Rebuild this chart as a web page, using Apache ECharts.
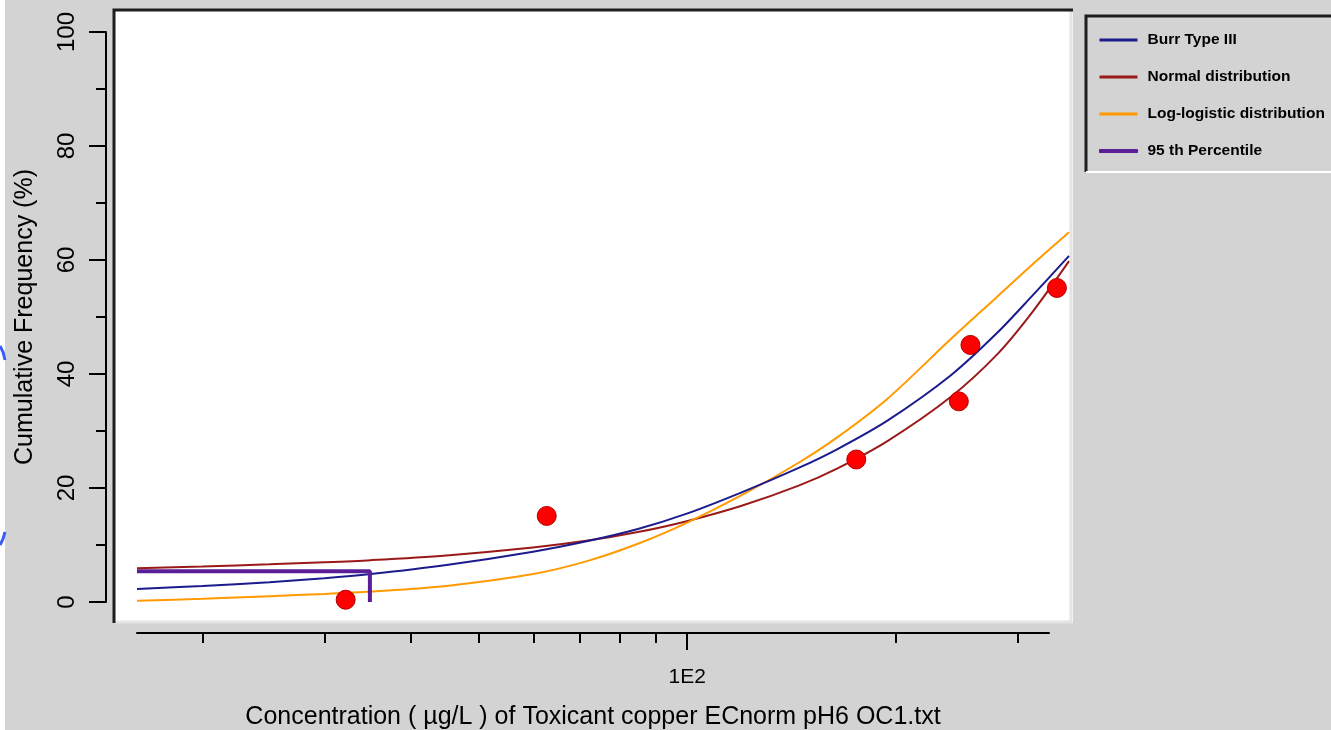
<!DOCTYPE html>
<html>
<head>
<meta charset="utf-8">
<script src="https://cdn.jsdelivr.net/npm/echarts@6/dist/echarts.min.js"></script>
<style>
html,body{margin:0;padding:0;background:#d3d3d3;}
#chart{width:1331px;height:730px;}
</style>
</head>
<body>
<div id="chart"></div>
<script>
// concentrations (µg/L) at which the fitted curves are sampled
const curveX = [16.1, 20, 25, 30, 35, 45, 60, 72, 85, 100, 120, 145, 165, 195, 240, 280, 315, 356];
// cumulative frequency (%) of each fitted distribution
const burrY   = [2.3, 2.80, 3.47, 4.16, 4.90, 6.49, 8.83, 10.70, 12.80, 15.5, 19.24, 23.52, 26.84, 31.87, 39.7, 47.14, 53.71, 60.73];
const normalY = [5.9, 6.24, 6.61, 6.97, 7.34, 8.17, 9.56, 10.77, 12.27, 14.18, 16.88, 20.41, 23.45, 28.28, 35.92, 43.36, 50.82, 59.8];
const loglogY = [0.2, 0.57, 1.01, 1.42, 1.84, 2.82, 4.90, 7.21, 10.21, 13.89, 18.73, 24.43, 28.92, 35.71, 46.04, 53.48, 59.16, 64.85];
// 95th percentile marker
const pctX = [16.1, 34.9, 34.9];
const pctY = [5.4, 5.4, 0];
// observed toxicity data
const obsX = [32.2, 62.8, 175.6, 246.9, 256.6, 342];
const obsY = [0.4, 15.1, 25.0, 35.2, 45.1, 55.1];
// axis ticks
const xMinorTicks = [20, 30, 40, 50, 60, 70, 80, 90, 200, 300];
const xMajorTicks = [100];
const xMajorLabels = {100: '1E2'};
const seriesNames = ['Burr Type III', 'Normal distribution', 'Log-logistic distribution', '95 th Percentile'];

const zip = (xs, ys) => xs.map((x, i) => [x, ys[i]]);
const FONT = "'Liberation Sans', Arial, sans-serif";
const C = {burr:'#1b1b8e', normal:'#9a1a1a', loglog:'#ff9a00', pct:'#5a1e96'};

const chart = echarts.init(document.getElementById('chart'), null, {renderer:'canvas'});
chart.setOption({
  backgroundColor: '#d3d3d3',
  animation: false,
  textStyle: {fontFamily: FONT},
  grid: [
    {left: 137, right: 262, top: 32, bottom: 128, containLabel:false, outerBoundsMode:'none'},
    {left: 137, right: 282, top: 32, bottom: 97, containLabel:false, outerBoundsMode:'none'}
  ],
  xAxis: [
    {type:'log', gridIndex:0, min:16.1, max:356, show:false},
    {type:'log', gridIndex:1, min:16.1, max:332.4, position:'bottom',
     axisLine:{show:true, lineStyle:{color:'#000', width:2}},
     axisTick:{show:true, customValues:xMinorTicks, length:10, lineStyle:{color:'#000', width:2}},
     axisLabel:{show:false}, splitLine:{show:false}, minorTick:{show:false},
     name:'Concentration ( µg/L ) of Toxicant copper ECnorm pH6 OC1.txt',
     nameLocation:'middle', nameGap:72,
     nameTextStyle:{fontSize:25, color:'#000', fontFamily:FONT}},
    {type:'log', gridIndex:1, min:16.1, max:332.4, position:'bottom',
     axisLine:{show:false},
     axisTick:{show:true, customValues:xMajorTicks, length:17, lineStyle:{color:'#000', width:2}},
     axisLabel:{show:true, customValues:xMajorTicks, margin:34, fontSize:21, color:'#000', fontFamily:FONT,
       formatter: v => xMajorLabels[Math.round(v)] || ''},
     splitLine:{show:false}}
  ],
  yAxis: [
    {type:'value', gridIndex:0, min:0, max:100, interval:20, offset:31,
     axisLine:{show:true, lineStyle:{color:'#000', width:2}},
     axisTick:{show:true, length:17, lineStyle:{color:'#000', width:2}},
     minorTick:{show:true, splitNumber:2, length:10, lineStyle:{color:'#000', width:2}},
     axisLabel:{rotate:90, margin:27, fontSize:24, color:'#000', fontFamily:FONT},
     splitLine:{show:false},
     name:'Cumulative Frequency (%)', nameLocation:'middle', nameGap:68,
     nameTextStyle:{fontSize:25, color:'#000', fontFamily:FONT}},
    {type:'value', gridIndex:1, show:false, min:0, max:100}
  ],
  legend: {
    orient:'vertical', left:1099, top:32, padding:0,
    itemWidth:38, itemHeight:3, itemGap:21, icon:'rect',
    textStyle:{fontSize:15.5, fontWeight:'bold', color:'#000', lineHeight:16, padding:[0,0,0,5], fontFamily:FONT},
    data:[
      {name:seriesNames[0]},
      {name:seriesNames[1]},
      {name:seriesNames[2]},
      {name:seriesNames[3], itemStyle:{borderColor:C.pct, borderWidth:1}}
    ]
  },
  graphic: [
    {type:'rect', z:-5, shape:{x:0, y:0, width:5, height:730}, style:{fill:'#ffffff'}},
    {type:'polyline', z:-5, shape:{points:[[0,346],[3,352],[5,360]]}, style:{stroke:'#3a5cff', lineWidth:3, fill:null}},
    {type:'polyline', z:-5, shape:{points:[[5,532],[3,539],[0,545]]}, style:{stroke:'#3a5cff', lineWidth:3, fill:null}},
    {type:'rect', z:-5, shape:{x:113, y:9, width:960, height:614}, style:{fill:'#ffffff'}},
    {type:'polyline', z:-4, shape:{points:[[1071,10],[1071,622],[114,622]]}, style:{stroke:'#e4e4e4', lineWidth:3, fill:null}},
    {type:'polyline', z:-4, shape:{points:[[114,623],[114,10],[1073,10]]}, style:{stroke:'#1e1e1e', lineWidth:3, fill:null}},
    {type:'polyline', z:-4, shape:{points:[[1086,172],[1086,16],[1331,16]]}, style:{stroke:'#1e1e1e', lineWidth:3, fill:null}},
    {type:'line', z:-4, shape:{x1:1086, y1:172, x2:1331, y2:172}, style:{stroke:'#ffffff', lineWidth:2}}
  ],
  series: [
    {name:seriesNames[1], type:'line', xAxisIndex:0, yAxisIndex:0, data:zip(curveX, normalY),
     showSymbol:false, smooth:0.3, color:C.normal, itemStyle:{color:C.normal}, lineStyle:{color:C.normal, width:2}, z:3},
    {name:seriesNames[0], type:'line', xAxisIndex:0, yAxisIndex:0, data:zip(curveX, burrY),
     showSymbol:false, smooth:0.3, color:C.burr, itemStyle:{color:C.burr}, lineStyle:{color:C.burr, width:2}, z:4},
    {name:seriesNames[2], type:'line', xAxisIndex:0, yAxisIndex:0, data:zip(curveX, loglogY),
     showSymbol:false, smooth:0.3, color:C.loglog, itemStyle:{color:C.loglog}, lineStyle:{color:C.loglog, width:2}, z:3},
    {name:seriesNames[3], type:'line', xAxisIndex:0, yAxisIndex:0, data:zip(pctX, pctY),
     showSymbol:false, color:C.pct, itemStyle:{color:C.pct}, lineStyle:{color:C.pct, width:4}, z:5},
    {name:'Data', type:'scatter', xAxisIndex:0, yAxisIndex:0, data:zip(obsX, obsY),
     symbol:'circle', symbolSize:19, itemStyle:{color:'#ff0000', borderColor:'#b00000', borderWidth:1, opacity:1}, z:6}
  ]
});
</script>
</body>
</html>
